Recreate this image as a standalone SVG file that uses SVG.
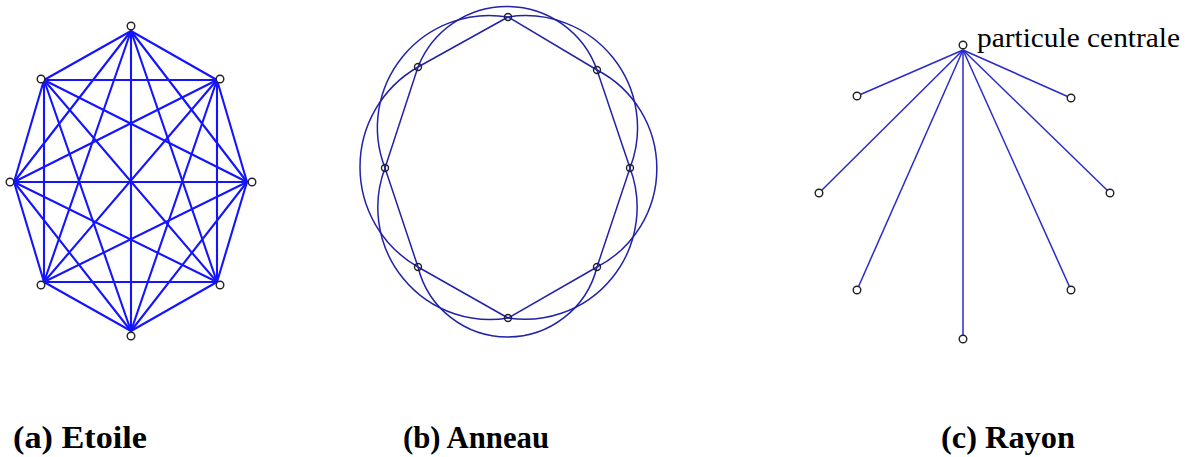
<svg xmlns="http://www.w3.org/2000/svg" width="1186" height="457" viewBox="0 0 1186 457">
<style>
.star{stroke:#1414ff;stroke-width:2.1;fill:none;stroke-linecap:round}
.ring{stroke:#2222a8;stroke-width:1.5;fill:none}
.ray{stroke:#2a2acc;stroke-width:1.5;fill:none}
.nd{stroke:#222;stroke-width:1.4;fill:#fff}
.nr{stroke:#222;stroke-width:1.4;fill:none}
.lbl{font-family:"Liberation Serif","Times New Roman",serif;font-weight:bold;font-size:31px;fill:#000}
.ann{font-family:"Liberation Serif","Times New Roman",serif;font-size:27px;fill:#000}
</style>
<rect width="1186" height="457" fill="#fff"/>
<g id="connectors">
<g id="star-edges" class="star">
<line x1="131" y1="31" x2="217" y2="80"/><line x1="131" y1="31" x2="247" y2="182"/><line x1="131" y1="31" x2="217" y2="282"/><line x1="131" y1="31" x2="131" y2="331"/><line x1="131" y1="31" x2="44" y2="282"/><line x1="131" y1="31" x2="14" y2="182"/><line x1="131" y1="31" x2="44" y2="80"/>
<line x1="217" y1="80" x2="247" y2="182"/><line x1="217" y1="80" x2="217" y2="282"/><line x1="217" y1="80" x2="131" y2="331"/><line x1="217" y1="80" x2="44" y2="282"/><line x1="217" y1="80" x2="14" y2="182"/><line x1="217" y1="80" x2="44" y2="80"/>
<line x1="247" y1="182" x2="217" y2="282"/><line x1="247" y1="182" x2="131" y2="331"/><line x1="247" y1="182" x2="44" y2="282"/><line x1="247" y1="182" x2="14" y2="182"/><line x1="247" y1="182" x2="44" y2="80"/>
<line x1="217" y1="282" x2="131" y2="331"/><line x1="217" y1="282" x2="44" y2="282"/><line x1="217" y1="282" x2="14" y2="182"/><line x1="217" y1="282" x2="44" y2="80"/>
<line x1="131" y1="331" x2="44" y2="282"/><line x1="131" y1="331" x2="14" y2="182"/><line x1="131" y1="331" x2="44" y2="80"/>
<line x1="44" y1="282" x2="14" y2="182"/><line x1="44" y1="282" x2="44" y2="80"/>
<line x1="14" y1="182" x2="44" y2="80"/>
</g>
<g id="ring-edges" class="ring">
<line x1="508" y1="17" x2="597" y2="70"/><line x1="597" y1="70" x2="630" y2="168"/><line x1="630" y1="168" x2="597" y2="267"/><line x1="597" y1="267" x2="508" y2="318"/>
<line x1="508" y1="318" x2="418" y2="267"/><line x1="418" y1="267" x2="385" y2="168"/><line x1="385" y1="168" x2="418" y2="67"/><line x1="418" y1="67" x2="508" y2="17"/>
<path d="M508 17 A112 112 0 0 1 630 168"/>
<path d="M630 168 A112 112 0 0 1 508 318"/>
<path d="M508 318 A112 112 0 0 1 385 168"/>
<path d="M385 168 A112 112 0 0 1 508 17"/>
<path d="M418 67 A95.6 95.6 0 0 1 597 70"/>
<path d="M597 70 A111 111 0 0 1 597 267"/>
<path d="M597 267 A92.2 92.2 0 0 1 418 267"/>
<path d="M418 267 A115.2 115.2 0 0 1 418 67"/>
</g>
<g id="ray-edges" class="ray">
<line x1="963" y1="50" x2="857" y2="96"/><line x1="963" y1="50" x2="819" y2="193"/><line x1="963" y1="50" x2="857" y2="290"/><line x1="963" y1="50" x2="963" y2="339"/>
<line x1="963" y1="50" x2="1071" y2="290"/><line x1="963" y1="50" x2="1110" y2="193"/><line x1="963" y1="50" x2="1071" y2="98"/>
</g>
</g>
<g id="star-nodes">
<g id="a-n0"><circle class="nd" cx="131" cy="26" r="3.8"/></g>
<g id="a-n1"><circle class="nd" cx="220" cy="79" r="3.8"/></g>
<g id="a-n2"><circle class="nd" cx="252" cy="182" r="3.8"/></g>
<g id="a-n3"><circle class="nd" cx="220" cy="285" r="3.8"/></g>
<g id="a-n4"><circle class="nd" cx="131" cy="336" r="3.8"/></g>
<g id="a-n5"><circle class="nd" cx="41" cy="285" r="3.8"/></g>
<g id="a-n6"><circle class="nd" cx="10" cy="182" r="3.8"/></g>
<g id="a-n7"><circle class="nd" cx="41" cy="79" r="3.8"/></g>
</g>
<g id="ring-nodes">
<g id="b-n0"><circle class="nr" cx="508" cy="17" r="3.5"/></g>
<g id="b-n1"><circle class="nr" cx="597" cy="70" r="3.5"/></g>
<g id="b-n2"><circle class="nr" cx="630" cy="168" r="3.5"/></g>
<g id="b-n3"><circle class="nr" cx="597" cy="267" r="3.5"/></g>
<g id="b-n4"><circle class="nr" cx="508" cy="318" r="3.5"/></g>
<g id="b-n5"><circle class="nr" cx="418" cy="267" r="3.5"/></g>
<g id="b-n6"><circle class="nr" cx="385" cy="168" r="3.5"/></g>
<g id="b-n7"><circle class="nr" cx="418" cy="67" r="3.5"/></g>
</g>
<g id="ray-nodes">
<g id="c-center"><circle class="nd" cx="963" cy="45" r="3.8"/><text class="ann" x="977" y="47" textLength="203" lengthAdjust="spacingAndGlyphs">particule centrale</text></g>
<g id="c-n1"><circle class="nd" cx="857" cy="96" r="3.8"/></g>
<g id="c-n2"><circle class="nd" cx="819" cy="193" r="3.8"/></g>
<g id="c-n3"><circle class="nd" cx="857" cy="290" r="3.8"/></g>
<g id="c-n4"><circle class="nd" cx="963" cy="339" r="3.8"/></g>
<g id="c-n5"><circle class="nd" cx="1071" cy="290" r="3.8"/></g>
<g id="c-n6"><circle class="nd" cx="1110" cy="193" r="3.8"/></g>
<g id="c-n7"><circle class="nd" cx="1071" cy="98" r="3.8"/></g>
</g>
<g id="labels">
<text class="lbl" x="13" y="448" textLength="134" lengthAdjust="spacingAndGlyphs">(a) Etoile</text>
<text class="lbl" x="403" y="448" textLength="146" lengthAdjust="spacingAndGlyphs">(b) Anneau</text>
<text class="lbl" x="941" y="448" textLength="134" lengthAdjust="spacingAndGlyphs">(c) Rayon</text>
</g>
</svg>
